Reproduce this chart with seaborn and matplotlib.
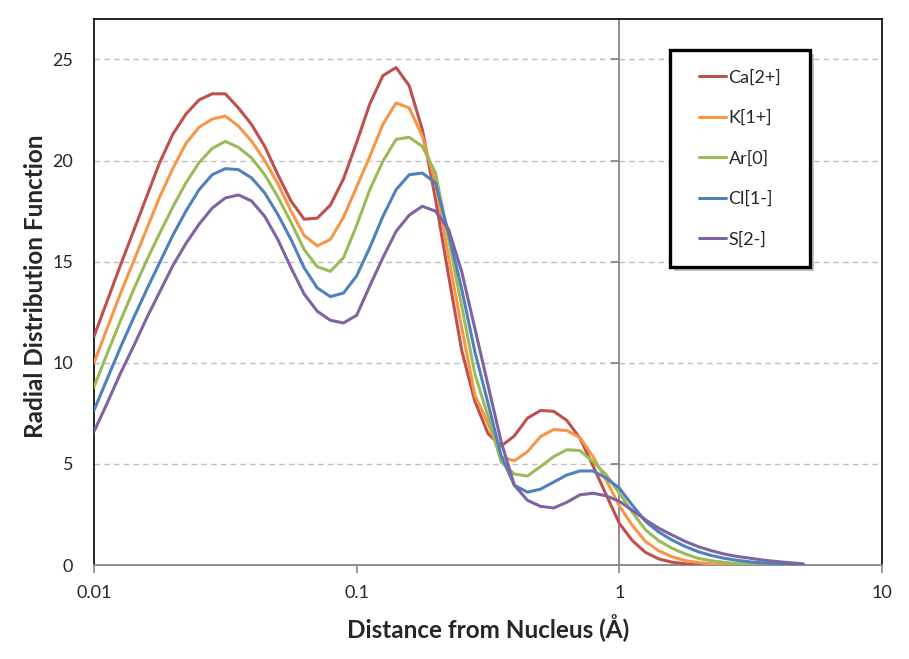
import pandas as pd
import matplotlib
matplotlib.use("Agg")
import matplotlib.pyplot as plt
import seaborn as sns
from matplotlib.lines import Line2D
from matplotlib.patches import Rectangle
from matplotlib.ticker import FixedLocator, FixedFormatter, NullLocator

# distance from nucleus (Angstrom), log spaced
distance = [0.01, 0.01122, 0.01259, 0.01413, 0.01585, 0.01778, 0.01995, 0.02239, 0.02512, 0.02818,
            0.03162, 0.03548, 0.03981, 0.04467, 0.05012, 0.05623, 0.06310, 0.07079, 0.07943, 0.08913,
            0.1, 0.1122, 0.1259, 0.1413, 0.1585, 0.1778, 0.1995, 0.2239, 0.2512, 0.2818,
            0.3162, 0.3548, 0.3981, 0.4467, 0.5012, 0.5623, 0.6310, 0.7079, 0.7943, 0.8913,
            1.0, 1.122, 1.259, 1.413, 1.585, 1.778, 1.995, 2.239, 2.512, 2.818,
            3.162, 3.548, 3.981, 4.467, 5.012]

ca = [11.3, 13.05, 14.8, 16.5, 18.2, 19.9, 21.3, 22.3, 23.0, 23.3,
      23.3, 22.6, 21.78, 20.7, 19.3, 18.0, 17.1, 17.15, 17.8, 19.1,
      20.9, 22.8, 24.2, 24.6, 23.7, 21.53, 18.1, 14.3, 10.6, 8.1,
      6.5, 5.88, 6.38, 7.26, 7.64, 7.6, 7.15, 6.27, 4.9, 3.47,
      2.06, 1.2, 0.62, 0.3, 0.14, 0.06, 0.03, 0.01, 0.0, 0.0,
      0.0, 0.0, 0.0, 0.0, 0.0]
k = [10.0, 11.7, 13.4, 15.0, 16.6, 18.2, 19.6, 20.85, 21.65, 22.05,
     22.2, 21.7, 20.96, 20.0, 18.85, 17.5, 16.3, 15.78, 16.1, 17.2,
     18.7, 20.2, 21.8, 22.85, 22.6, 21.2, 18.9, 15.2, 11.73, 8.4,
     7.0, 5.35, 5.15, 5.6, 6.35, 6.7, 6.65, 6.3, 5.36, 4.2,
     2.92, 1.95, 1.16, 0.7, 0.41, 0.22, 0.12, 0.06, 0.03, 0.01,
     0.01, 0.0, 0.0, 0.0, 0.0]
ar = [8.8, 10.45, 12.05, 13.6, 15.05, 16.4, 17.7, 18.9, 19.9, 20.6,
      20.95, 20.65, 20.13, 19.3, 18.2, 16.95, 15.6, 14.75, 14.52, 15.2,
      16.8, 18.56, 19.97, 21.05, 21.15, 20.7, 19.4, 16.1, 12.8, 9.45,
      7.35, 5.1, 4.5, 4.4, 4.87, 5.36, 5.7, 5.66, 5.11, 4.46,
      3.55, 2.6, 1.73, 1.2, 0.83, 0.55, 0.33, 0.21, 0.13, 0.07,
      0.04, 0.02, 0.01, 0.0, 0.0]
cl = [7.65, 9.2, 10.74, 12.2, 13.6, 14.95, 16.3, 17.5, 18.56, 19.3,
      19.6, 19.55, 19.14, 18.4, 17.33, 16.1, 14.7, 13.7, 13.27, 13.45,
      14.3, 15.7, 17.24, 18.56, 19.3, 19.38, 18.9, 16.4, 13.64, 10.55,
      8.0, 5.4, 3.95, 3.6, 3.75, 4.1, 4.45, 4.65, 4.65, 4.3,
      3.8, 2.95, 2.15, 1.63, 1.24, 0.92, 0.66, 0.47, 0.33, 0.23,
      0.15, 0.10, 0.07, 0.04, 0.02]
s = [6.6, 8.0, 9.46, 10.8, 12.2, 13.5, 14.8, 15.9, 16.85, 17.65,
     18.15, 18.3, 18.0, 17.24, 16.09, 14.7, 13.4, 12.55, 12.1, 11.97,
     12.35, 13.8, 15.2, 16.5, 17.3, 17.74, 17.5, 16.6, 14.5, 11.7,
     8.9, 6.1, 3.95, 3.2, 2.9, 2.82, 3.1, 3.47, 3.55, 3.42,
     3.15, 2.7, 2.23, 1.82, 1.49, 1.17, 0.91, 0.71, 0.54, 0.42,
     0.33, 0.24, 0.17, 0.11, 0.06]

species = ["Ca[2+]", "K[1+]", "Ar[0]", "Cl[1-]", "S[2-]"]
colors = ["#C0504D", "#F79646", "#9BBB59", "#4F81BD", "#8064A2"]
y_ticks = [0, 5, 10, 15, 20, 25]
x_ticks = [0.01, 0.1, 1, 10]
x_tick_labels = ["0.01", "0.1", "1", "10"]

df = pd.DataFrame({
    "distance": distance * 5,
    "rdf": ca + k + ar + cl + s,
    "species": [sp for sp in species for _ in distance],
})

sns.set_style("white")
plt.rcParams["font.family"] = ["Lato", "DejaVu Sans"]

W, H = 909, 659
fig = plt.figure(figsize=(W / 100, H / 100), dpi=100)
ax = fig.add_axes([94 / W, 1 - 565 / H, 788 / W, 546 / H])

# gridlines and y-axis crossing line at x = 1
ax.set_yticks(y_ticks)
ax.yaxis.grid(True, linestyle=(0, (4, 3)), color="#BFBFBF", linewidth=1.0)
ax.xaxis.grid(False)
ax.set_axisbelow(True)
ax.axvline(1, color="#868686", linewidth=1.3, zorder=1)
ax.plot([1] * (len(y_ticks) - 1), y_ticks[1:], marker=0, markersize=6,
        linestyle="none", color="#868686", markeredgewidth=1.3, zorder=1)

sns.lineplot(data=df, x="distance", y="rdf", hue="species",
             palette=dict(zip(species, colors)), linewidth=2.2,
             sort=False, estimator=None, legend=False, ax=ax, zorder=3)
for line in ax.get_lines():
    line.set_solid_joinstyle("round")

ax.set_xscale("log")
ax.set_xlim(0.01, 10)
ax.set_ylim(0, 27)
ax.xaxis.set_major_locator(FixedLocator(x_ticks))
ax.xaxis.set_major_formatter(FixedFormatter(x_tick_labels))
ax.xaxis.set_minor_locator(NullLocator())

for side in ["left", "top", "right"]:
    ax.spines[side].set_color("black")
    ax.spines[side].set_linewidth(1.2)
ax.spines["bottom"].set_color("#868686")
ax.spines["bottom"].set_linewidth(1.3)

ax.tick_params(axis="x", which="major", direction="out", length=5.5, width=1.2,
               color="#868686", pad=9, labelsize=13, bottom=True)
ax.tick_params(axis="y", length=0, pad=15, labelsize=13)

ax.set_xlabel("Distance from Nucleus (Å)", fontsize=17.5, fontweight="bold")
ax.set_ylabel("Radial Distribution Function", fontsize=17.5, fontweight="bold")
ax.xaxis.set_label_coords(0.5, -(614 - 565) / 546)
ax.yaxis.set_label_coords(-(94 - 47) / 788, 0.51)

# legend box with shadow
bx0, by0 = (670 - 94) / 788, (565 - 267) / 546
bw, bh = 140 / 788, 217 / 546
ax.add_patch(Rectangle((bx0 + 4 / 788, by0 - 4 / 546), bw, bh, transform=ax.transAxes,
                       facecolor="#9a9a9a", edgecolor="none", alpha=0.6, zorder=6))
ax.add_patch(Rectangle((bx0, by0), bw, bh, transform=ax.transAxes,
                       facecolor="white", edgecolor="black", linewidth=2.4, zorder=7))
handles = [Line2D([], [], color=c, linewidth=2.2) for c in colors]
leg = ax.legend(handles, species, loc="center", frameon=False, fontsize=13,
                bbox_to_anchor=(bx0 + bw / 2, by0 + bh / 2),
                handlelength=1.5, handletextpad=0.15, labelspacing=1.35,
                borderpad=0.3)
leg.set_zorder(8)

fig.savefig("out.png", dpi=100)
